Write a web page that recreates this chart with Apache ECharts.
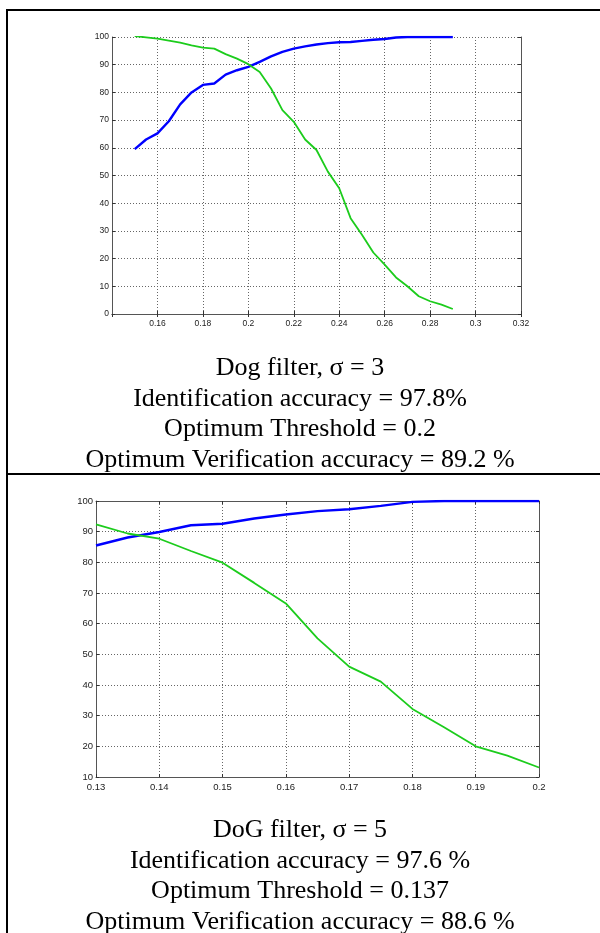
<!DOCTYPE html>
<html lang="en">
<head>
    <meta charset="UTF-8">
    <title>DoG filter threshold curves</title>
    <style>
        html, body { margin: 0; padding: 0; background: #fff; }
        #main { width: 600px; height: 933px; }
    </style>
    <script src="https://cdn.jsdelivr.net/npm/echarts@6/dist/echarts.min.js"></script>
</head>
<body>
    <div id="main"></div>
    <script>
        // --- data ---
        // top panel, sigma = 3
        const topX = [0.15, 0.155, 0.16, 0.165, 0.17, 0.175, 0.18, 0.185, 0.19, 0.195,
            0.2, 0.205, 0.21, 0.215, 0.22, 0.225, 0.23, 0.235, 0.24, 0.245,
            0.25, 0.255, 0.26, 0.265, 0.27, 0.275, 0.28, 0.285, 0.29];
        const topBlue = [59.5, 63, 65.2, 69.6, 75.7, 80, 82.7, 83.2, 86.4, 88,
            89.2, 91, 93, 94.6, 95.8, 96.6, 97.3, 97.8, 98.1, 98.2,
            98.6, 99, 99.3, 99.8, 100, 100, 100, 100, 100];
        const topGreen = [100.3, 99.9, 99.4, 98.7, 98, 97, 96.2, 95.8, 93.8, 92.2,
            90.2, 87.4, 81.4, 73.6, 69.4, 63, 59.2, 51.4, 45.4, 34.6,
            28.6, 22.2, 17.8, 13.2, 10, 6.4, 4.6, 3.4, 1.8];

        // bottom panel, sigma = 5
        const botX = [0.13, 0.135, 0.14, 0.145, 0.15, 0.155, 0.16, 0.165, 0.17, 0.175,
            0.18, 0.185, 0.19, 0.195, 0.2];
        const botBlue = [85.5, 88.1, 89.9, 92.1, 92.6, 94.3, 95.6, 96.7, 97.3, 98.4,
            99.7, 100, 100, 100, 100];
        const botGreen = [92.4, 89.4, 87.7, 83.7, 79.9, 73.3, 66.6, 55.2, 46, 41.1,
            32.2, 26.2, 20, 17, 13.1];

        const topCaption = ['Dog filter, σ = 3', 'Identification accuracy = 97.8%',
            'Optimum Threshold = 0.2', 'Optimum Verification accuracy = 89.2 %'];
        const botCaption = ['DoG filter, σ = 5', 'Identification accuracy = 97.6 %',
            'Optimum Threshold = 0.137', 'Optimum Verification accuracy = 88.6 %'];

        const pairs = (xs, ys) => xs.map((x, i) => [x, ys[i]]);

        var chart = echarts.init(document.getElementById('main'));

        // matlab-ish dotted grid, thin box, inward ticks on all four sides
        const gridLine = { show: true, lineStyle: { color: '#666', type: [1, 2], width: 1 } };
        const boxLine = { show: true, lineStyle: { color: '#555', width: 1 } };
        const tick = { show: true, inside: true, length: 3, lineStyle: { color: '#333' } };

        function xAxes(gi, min, max, step, fs, hideMin) {
            return [{
                type: 'value', gridIndex: gi, min: min, max: max, interval: step,
                axisLine: boxLine, axisTick: tick, splitLine: gridLine,
                axisLabel: {
                    color: '#222', fontSize: fs, fontFamily: 'Liberation Sans', margin: 5,
                    showMinLabel: !hideMin,
                    formatter: v => +v.toFixed(3) + ''
                }
            }, {
                type: 'value', gridIndex: gi, position: 'top', min: min, max: max, interval: step,
                axisLine: boxLine, axisTick: tick, splitLine: { show: false }, axisLabel: { show: false }
            }];
        }

        function yAxes(gi, min, fs) {
            return [{
                type: 'value', gridIndex: gi, min: min, max: 100, interval: 10,
                axisLine: boxLine, axisTick: tick, splitLine: gridLine,
                axisLabel: { color: '#222', fontSize: fs, fontFamily: 'Liberation Sans', margin: 3 }
            }, {
                type: 'value', gridIndex: gi, position: 'right', min: min, max: 100, interval: 10,
                axisLine: boxLine, axisTick: tick, splitLine: { show: false }, axisLabel: { show: false }
            }];
        }

        function captionText(lines, firstY) {
            return lines.map((t, i) => ({
                type: 'text', left: 'center', x: 0, top: firstY + i * 30.7,
                style: { text: t, fill: '#000', font: '26px "Liberation Serif"', textAlign: 'center' }
            }));
        }

        const frame = [
            { type: 'line', shape: { x1: 7, y1: 10, x2: 7, y2: 933 }, style: { stroke: '#000', lineWidth: 2 } },
            { type: 'line', shape: { x1: 6, y1: 10, x2: 600, y2: 10 }, style: { stroke: '#000', lineWidth: 2 } },
            { type: 'line', shape: { x1: 6, y1: 474, x2: 600, y2: 474 }, style: { stroke: '#000', lineWidth: 2 } }
        ];

        var option = {
            animation: false,
            backgroundColor: '#fff',
            grid: [
                { left: 112, top: 37, width: 409, height: 277 },
                { left: 96, top: 501, width: 443, height: 276 }
            ],
            xAxis: [...xAxes(0, 0.14, 0.32, 0.02, 8.5, true), ...xAxes(1, 0.13, 0.2, 0.01, 9.5, false)],
            yAxis: [...yAxes(0, 0, 8.5), ...yAxes(1, 10, 9.5)],
            series: [
                { type: 'line', xAxisIndex: 0, yAxisIndex: 0, data: pairs(topX, topBlue), showSymbol: false,
                    lineStyle: { color: '#0000ff', width: 2.4 }, itemStyle: { color: '#0000ff' } },
                { type: 'line', xAxisIndex: 0, yAxisIndex: 0, data: pairs(topX, topGreen), showSymbol: false,
                    lineStyle: { color: '#1ccc1c', width: 1.8 }, itemStyle: { color: '#1ccc1c' } },
                { type: 'line', xAxisIndex: 2, yAxisIndex: 2, data: pairs(botX, botBlue), showSymbol: false,
                    lineStyle: { color: '#0000ff', width: 2.4 }, itemStyle: { color: '#0000ff' } },
                { type: 'line', xAxisIndex: 2, yAxisIndex: 2, data: pairs(botX, botGreen), showSymbol: false,
                    lineStyle: { color: '#1ccc1c', width: 1.8 }, itemStyle: { color: '#1ccc1c' } }
            ],
            graphic: [...frame, ...captionText(topCaption, 355), ...captionText(botCaption, 817)]
        };

        chart.setOption(option);
    </script>
</body>
</html>
